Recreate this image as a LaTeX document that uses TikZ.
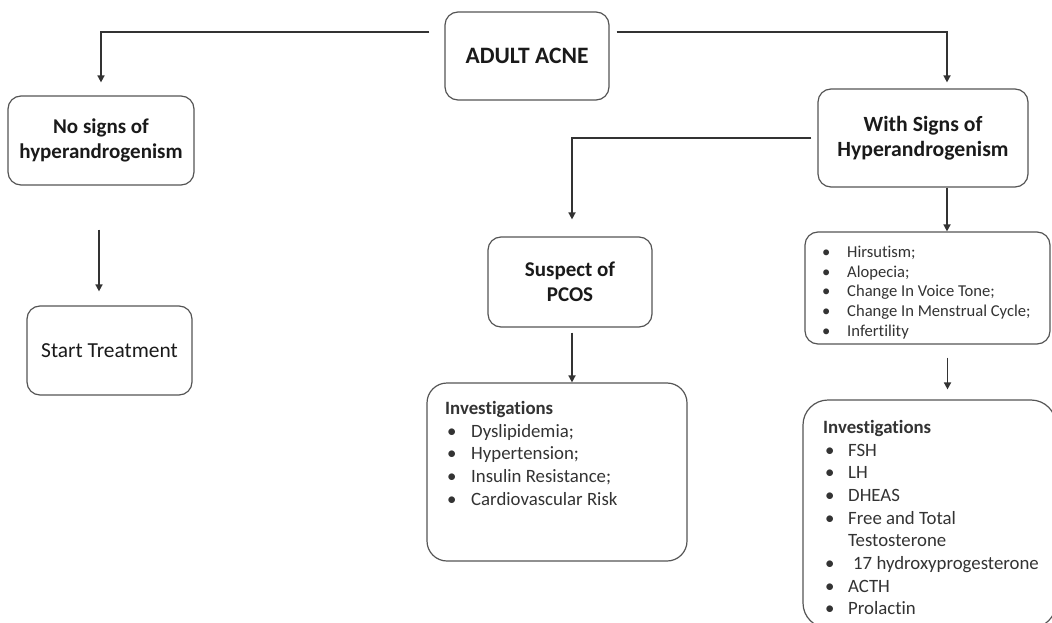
\documentclass[tikz,border=0pt]{standalone}
\usepackage{fontspec}
\setmainfont{Carlito}[Ligatures=NoCommon]
\usetikzlibrary{arrows.meta}
\definecolor{boxc}{HTML}{555555}
\definecolor{linec}{HTML}{333333}
\definecolor{txt}{HTML}{1A1A1A}
\definecolor{ltxt}{HTML}{333333}
\newcommand{\lbul}[2]{\makebox[#1][l]{\hspace{2pt}\textbullet}#2}
\begin{document}
\begin{tikzpicture}[x=1pt,y=-1pt,
  box/.style={draw=boxc, line width=1.2pt, rounded corners=13pt, inner sep=0pt, fill=white},
  head/.style={font=\fontsize{21}{25.5}\selectfont\bfseries, align=center, text=txt},
  plain/.style={font=\fontsize{21.4}{25}\selectfont, align=center, text=txt},
  listtxt/.style={font=\fontsize{18.8}{22.7}\selectfont, align=left, text=ltxt, inner sep=0pt, anchor=north west},
  smalltxt/.style={font=\fontsize{16.6}{19.6}\selectfont, align=left, text=ltxt, inner sep=0pt, anchor=north west},
  conn/.style={draw=linec, line width=1.6pt},
  arr/.style={conn, -{Triangle[width=7pt,length=7pt]}}
]
\clip (0,0) rectangle (1052,623);
\fill[white] (0,0) rectangle (1052,623);

\node[box, head, font=\fontsize{23.5}{28}\selectfont\bfseries, minimum width=164pt, minimum height=88pt] (acne) at (527,56) {ADULT ACNE};
\node[box, head, minimum width=186pt, minimum height=89pt] (nosigns) at (101,140.5) {No signs of\\hyperandrogenism};
\node[box, plain, minimum width=165pt, minimum height=89pt] (start) at (109.5,350.5) {Start Treatment};
\node[box, head, font=\fontsize{21.7}{25.5}\selectfont\bfseries, minimum width=210pt, minimum height=98pt] (withsigns) at (923,138) {With Signs of\\Hyperandrogenism};
\node[box, head, minimum width=164pt, minimum height=90pt] (suspect) at (570,282) {Suspect of\\PCOS};
\node[box, minimum width=245pt, minimum height=112pt] (hlist) at (927.5,288) {};
\node[box, rounded corners=20pt, minimum width=260pt, minimum height=178pt] (pcosinv) at (557,472) {};
\node[box, rounded corners=25pt, minimum width=253pt, minimum height=228pt] (hinv) at (929.5,514) {};

\node[smalltxt] (hlisttxt) at (820,246) {%
\lbul{27pt}{Hirsutism;}\\
\lbul{27pt}{Alopecia;}\\
\lbul{27pt}{Change In Voice Tone;}\\
\lbul{27pt}{Change In Menstrual Cycle;}\\
\lbul{27pt}{Infertility}};

\node[listtxt] (pcostxt) at (445,401) {%
\textbf{Investigations}\\
\lbul{26pt}{Dyslipidemia;}\\
\lbul{26pt}{Hypertension;}\\
\lbul{26pt}{Insulin Resistance;}\\
\lbul{26pt}{Cardiovascular Risk}};

\node[listtxt] (hinvtxt) at (823,420) {%
\textbf{Investigations}\\
\lbul{25pt}{FSH}\\
\lbul{25pt}{LH}\\
\lbul{25pt}{DHEAS}\\
\lbul{25pt}{Free and Total}\\
\hspace{25pt}Testosterone\\
\lbul{25pt}{\hspace{5pt}17 hydroxyprogesterone}\\
\lbul{25pt}{ACTH}\\
\lbul{25pt}{Prolactin}};

\coordinate (aL) at ([xshift=-15pt]acne.west |- 0,32);
\coordinate (aR) at ([xshift=7pt]acne.east |- 0,32);
\coordinate (wL) at ([xshift=-6pt]withsigns.west);

\draw[arr, shorten >=13pt] (aL) -| (nosigns.north);
\draw[arr, shorten >=6pt] (aR) -| ([xshift=24pt]withsigns.north);
\draw[arr, shorten >=17pt] (wL) -| ([xshift=2pt]suspect.north);
\draw[arr] ([xshift=24pt]withsigns.south) -- ([xshift=24pt]withsigns.south |- hlist.north);
\draw[arr, shorten <=13pt, shorten >=10pt] ([xshift=20pt]hlist.south) -- ([xshift=20pt]hlist.south |- hinv.north);
\draw[arr, shorten <=44pt, shorten >=14pt] ([xshift=-2pt]nosigns.south) -- ([xshift=-2pt]nosigns.south |- start.north);
\draw[arr, shorten <=5pt] ([xshift=2pt]suspect.south) -- ([xshift=2pt]suspect.south |- pcosinv.north);
\end{tikzpicture}
\end{document}
